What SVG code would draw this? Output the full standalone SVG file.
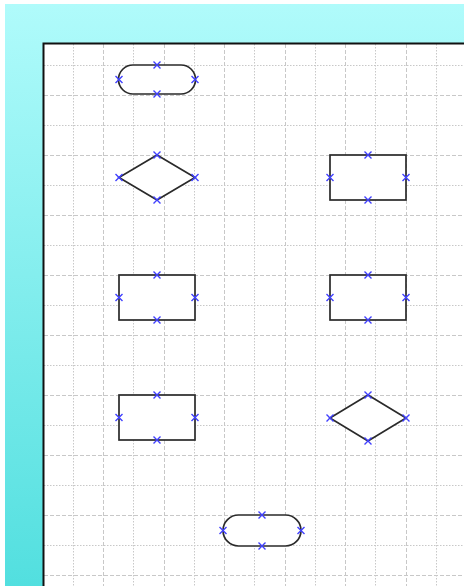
<svg xmlns="http://www.w3.org/2000/svg" xmlns:xlink="http://www.w3.org/1999/xlink" width="464" height="586" viewBox="0 0 464 586">
<defs>
<linearGradient id="bg" x1="0" y1="0" x2="0" y2="1">
<stop offset="0" stop-color="#b0fbfb"/>
<stop offset="1" stop-color="#52dfdf"/>
</linearGradient>
<path id="x" d="M-3.5,-3.5L3.5,3.5M-3.5,3.5L3.5,-3.5"/>
</defs>
<style>
.dot{stroke:#c8c8c8;stroke-width:1;stroke-dasharray:1.5,1.5;fill:none}
.dash{stroke:#c8c8c8;stroke-width:1;stroke-dasharray:4,2;fill:none}
.shape{fill:#fff;stroke:#2a2a2a;stroke-width:1.7}
.cp use{stroke:#4040ff;stroke-width:1.4;fill:none}
</style>
<rect width="464" height="586" fill="#fff"/>
<rect x="5" y="4" width="459" height="582" fill="url(#bg)"/>
<rect x="43" y="43" width="421" height="543" fill="#fff"/>
<g id="grid">
<path class="dot" d="M73.5,44V586M133.5,44V586M194.5,44V586M254.5,44V586M315.5,44V586M375.5,44V586M436.5,44V586"/>
<path class="dash" d="M103.5,44V586M164.5,44V586M224.5,44V586M285.5,44V586M345.5,44V586M406.5,44V586"/>
<path class="dot" d="M44,65.5H464M44,125.5H464M44,185.5H464M44,245.5H464M44,305.5H464M44,365.5H464M44,425.5H464M44,485.5H464M44,545.5H464"/>
<path class="dash" d="M44,95.5H464M44,155.5H464M44,215.5H464M44,275.5H464M44,335.5H464M44,395.5H464M44,455.5H464M44,515.5H464M44,575.5H464"/>
</g>
<path d="M43.5,586V43.5H464" fill="none" stroke="#111" stroke-width="2"/>
<g id="connectors"/>
<g id="start" class="cp">
<rect class="shape" x="118.5" y="65" width="77" height="29" rx="14.5" ry="14.5"/>
<use xlink:href="#x" x="157" y="65"/><use xlink:href="#x" x="157" y="94"/><use xlink:href="#x" x="119" y="79.5"/><use xlink:href="#x" x="195" y="79.5"/>
</g>
<g id="decision1" class="cp">
<path class="shape" d="M157,155L195,177.5L157,200L119,177.5Z"/>
<use xlink:href="#x" x="157" y="155"/><use xlink:href="#x" x="157" y="200"/><use xlink:href="#x" x="119" y="177.5"/><use xlink:href="#x" x="195" y="177.5"/>
</g>
<g id="process1" class="cp">
<rect class="shape" x="330" y="155" width="76" height="45"/>
<use xlink:href="#x" x="368" y="155"/><use xlink:href="#x" x="368" y="200"/><use xlink:href="#x" x="330" y="177.5"/><use xlink:href="#x" x="406" y="177.5"/>
</g>
<g id="process2" class="cp">
<rect class="shape" x="119" y="275" width="76" height="45"/>
<use xlink:href="#x" x="157" y="275"/><use xlink:href="#x" x="157" y="320"/><use xlink:href="#x" x="119" y="297.5"/><use xlink:href="#x" x="195" y="297.5"/>
</g>
<g id="process3" class="cp">
<rect class="shape" x="330" y="275" width="76" height="45"/>
<use xlink:href="#x" x="368" y="275"/><use xlink:href="#x" x="368" y="320"/><use xlink:href="#x" x="330" y="297.5"/><use xlink:href="#x" x="406" y="297.5"/>
</g>
<g id="process4" class="cp">
<rect class="shape" x="119" y="395" width="76" height="45"/>
<use xlink:href="#x" x="157" y="395"/><use xlink:href="#x" x="157" y="440"/><use xlink:href="#x" x="119" y="417.5"/><use xlink:href="#x" x="195" y="417.5"/>
</g>
<g id="decision2" class="cp">
<path class="shape" d="M368,395L406,418L368,441L330,418Z"/>
<use xlink:href="#x" x="368" y="395"/><use xlink:href="#x" x="368" y="441"/><use xlink:href="#x" x="330" y="418"/><use xlink:href="#x" x="406" y="418"/>
</g>
<g id="end" class="cp">
<rect class="shape" x="223" y="515" width="78" height="31" rx="15.5" ry="15.5"/>
<use xlink:href="#x" x="262" y="515"/><use xlink:href="#x" x="262" y="546"/><use xlink:href="#x" x="223" y="530.5"/><use xlink:href="#x" x="301" y="530.5"/>
</g>
</svg>
